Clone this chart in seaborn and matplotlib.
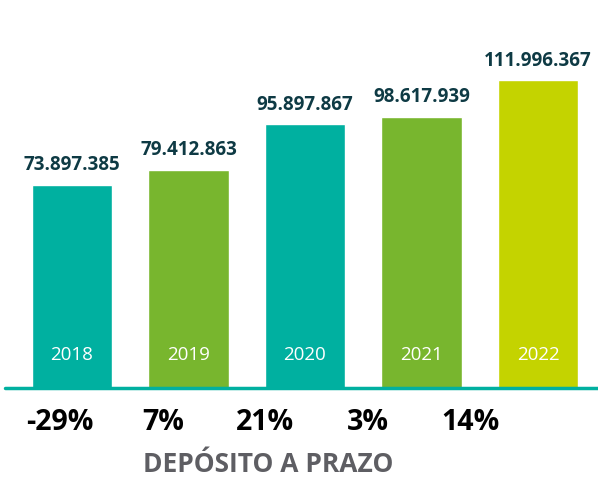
"""
Depósito a prazo - bar chart by year with growth percentages.
"""
import pandas as pd
import matplotlib.pyplot as plt
import seaborn as sns

years = ["2018", "2019", "2020", "2021", "2022"]
values = [73897385, 79412863, 95897867, 98617939, 111996367]
growth = ["-29%", "7%", "21%", "3%", "14%"]
title = "DEPÓSITO A PRAZO"

TEAL = "#00b0a0"
GREEN = "#78b62e"
LIME = "#c4d300"
bar_colors = [TEAL, GREEN, TEAL, GREEN, LIME]
LABEL_COLOR = "#0e3a44"
TITLE_COLOR = "#5e5e63"

sns.set_theme(style="white")
plt.rcParams['font.family'] = ['Open Sans', 'DejaVu Sans']

df = pd.DataFrame({"year": years, "value": values})

W, H = 598, 480
fig = plt.figure(figsize=(W / 100, H / 100), dpi=100)
base_px = 388
ax = fig.add_axes([0, (H - base_px) / H, 1, base_px / H])

sns.barplot(data=df, x="year", y="value", hue="year", palette=bar_colors,
            width=0.69, saturation=1, legend=False, ax=ax)

ax.set_xlim(-0.618, 4.515)
ax.set_ylim(0, base_px / 2.75 * 1e6)
ax.axis("off")

for i, (yr, v) in enumerate(zip(years, values)):
    ax.text(i, v + 3.4e6, f"{v:,}".replace(",", "."), ha="center", va="bottom",
            fontsize=13.5, fontweight="bold", color=LABEL_COLOR)
    ax.text(i, 12e6, yr, ha="center", va="center", fontsize=13.5,
            color="white")

# baseline
fig.add_artist(plt.Line2D([5 / W, 1], [(H - 388) / H] * 2, color=TEAL, lw=2.5))

pct_x = [60, 163, 265, 368, 470]
for px, g in zip(pct_x, growth):
    fig.text(px / W, 1 - 423 / H, g, ha="center", va="center",
             fontsize=20.5, fontweight="bold", color="black")

fig.text(268 / W, 1 - 465 / H, title, ha="center", va="center",
         fontsize=19, fontweight="bold", color=TITLE_COLOR)

fig.savefig("out.png", dpi=100)
